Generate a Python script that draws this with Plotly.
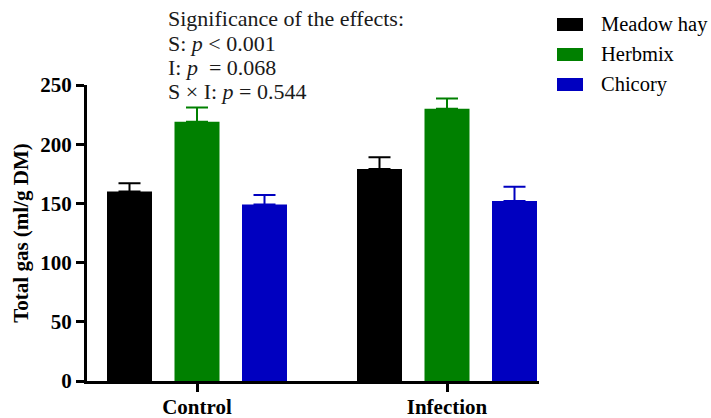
import plotly.graph_objects as go

# ---- data ----
groups = ["Control", "Infection"]
series_names = ["Meadow hay", "Herbmix", "Chicory"]
meadow_hay = [160, 179]
herbmix = [219, 230]
chicory = [149, 152]
meadow_hay_err = [7, 10]
herbmix_err = [12, 8.5]
chicory_err = [8, 12]
series_colors = ["#000000", "#008000", "#0000C0"]
y_ticks = [0, 50, 100, 150, 200, 250]
sig_lines = [
    "Significance of the effects:",
    "S: <i>p</i> &lt; 0.001",
    "I: <i>p</i>&nbsp; = 0.068",
    "S × I: <i>p</i> = 0.544",
]

W, H = 711, 418
M_L, M_R, M_T, M_B = 87, 172, 85, 37
PW, PH = W - M_L - M_R, H - M_T - M_B
FONT = "Liberation Serif"


def fx(px):
    return (px - M_L) / PW


def fy(py):
    return (H - M_B - py) / PH


fig = go.Figure()
for name, vals, errs, col in zip(series_names,
                                 [meadow_hay, herbmix, chicory],
                                 [meadow_hay_err, herbmix_err, chicory_err],
                                 series_colors):
    fig.add_trace(go.Bar(
        x=groups, y=vals, name=name,
        marker=dict(color=col, line=dict(width=0)),
        error_y=dict(type="data", array=errs, symmetric=False,
                     arrayminus=[0] * len(errs),
                     color=col, thickness=2, width=11),
        showlegend=False,
    ))

# hand-drawn legend: wide swatches with serif labels
shapes = []
annotations = []
for i, (name, col) in enumerate(zip(series_names, series_colors)):
    cy = 24.5 + 30 * i
    shapes.append(dict(type="rect", xref="paper", yref="paper",
                       x0=fx(557), x1=fx(583), y0=fy(cy + 6.5), y1=fy(cy - 6.5),
                       fillcolor=col, line=dict(width=0)))
    annotations.append(dict(text=name, xref="paper", yref="paper",
                            x=fx(599), y=fy(cy), xanchor="left", yanchor="middle",
                            showarrow=False,
                            font=dict(family=FONT, size=20.5, color="#000000")))

for i, line in enumerate(sig_lines):
    cy = 19 + 24 * i
    annotations.append(dict(text=line, xref="paper", yref="paper",
                            x=fx(166), y=fy(cy), xanchor="left", yanchor="middle",
                            showarrow=False,
                            font=dict(family=FONT, size=22, color="#1a1a1a")))

fig.update_layout(
    width=W, height=H,
    font=dict(family=FONT, size=21, color="black"),
    margin=dict(l=M_L, r=M_R, t=M_T, b=M_B, autoexpand=False),
    paper_bgcolor="white", plot_bgcolor="white",
    barmode="group", bargap=0.19, bargroupgap=1 / 3,
    shapes=shapes, annotations=annotations,
    showlegend=False,
    xaxis=dict(
        type="category", range=[-0.44, -0.44 + PW / 250],
        showline=True, linecolor="black", linewidth=3,
        ticks="outside", ticklen=8, tickwidth=3, tickcolor="black",
        ticklabelstandoff=-3,
        tickfont=dict(family=FONT, size=21, color="black", weight="bold"),
        showgrid=False, zeroline=False,
    ),
    yaxis=dict(
        range=[0, 250], tickvals=y_ticks,
        showline=True, linecolor="black", linewidth=3,
        ticks="outside", ticklen=8, tickwidth=3, tickcolor="black",
        tickfont=dict(family=FONT, size=21, color="black", weight="bold"),
        showgrid=False, zeroline=False,
        title=dict(text="Total gas (ml/g DM)", standoff=6,
                   font=dict(family=FONT, size=21, color="black", weight="bold")),
    ),
)

fig.write_html("out.html")
